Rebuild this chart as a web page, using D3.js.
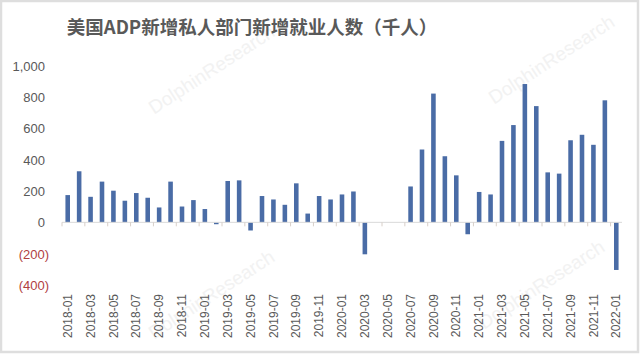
<!DOCTYPE html>
<html>
<head>
<meta charset="utf-8">
<script src="https://cdn.jsdelivr.net/npm/d3@7"></script>
<style>
  body { margin: 0; background: #fff; }
  svg { display: block; }
</style>
</head>
<body>
<svg id="chart" width="641" height="355"></svg>
<script>
// months 2018-01 .. 2022-01
var months = []
for (var yr = 2018; yr <= 2022; yr++) {
    for (var m = 1; m <= 12; m++) {
        if (yr === 2022 && m > 1) break
        months.push(yr + "-" + (m < 10 ? "0" + m : m))
    }
}

// ADP private payroll change (thousands), 2020-04..06 not shown
var adpValues = [
    174, 326, 163, 260, 202, 138, 187, 157, 95, 260, 101, 142,
    85, -12, 264, 268, -52, 168, 146, 112, 249, 56, 168, 146,
    178, 197, -204, null, null, null, 229, 465, 822, 422, 300, -76,
    194, 178, 520, 621, 883, 742, 319, 311, 524, 559, 495, 779,
    -304
]

var yTicks = [-400, -200, 0, 200, 400, 600, 800, 1000]
var titleText = "美国ADP新增私人部门新增就业人数（千人）"

var dataset = months.map((d, i) => ({ month: d, value: adpValues[i] }))

var svg = d3.select("#chart")
var dims = {
    width: 641,
    height: 355,
    margin: { top: 65.7, bottom: 70, left: 62, right: 19 }
}
var fontFam = "'Liberation Sans', Arial, sans-serif"
var textGrey = "#595959"

// frame
svg.append("rect")
    .attr("x", 1).attr("y", 1)
    .attr("width", dims.width - 4).attr("height", dims.height - 4)
    .attr("fill", "#fff")
    .attr("stroke", "#dedede")
    .attr("stroke-width", 2.5)

// faint watermarks
var marks = [[215, 75], [555, 65], [215, 300], [545, 290]]
marks.forEach(p => {
    svg.append("text")
        .attr("transform", `translate(${p[0]},${p[1]}) rotate(-33)`)
        .attr("text-anchor", "middle")
        .attr("font-family", fontFam)
        .attr("font-size", 19)
        .attr("fill", "#f2f2f2")
        .text("DolphinResearch")
})

var xScale = d3.scaleBand()
    .domain(months)
    .range([dims.margin.left, dims.width - dims.margin.right])
    .paddingInner(0.6)
    .paddingOuter(0.3)

var yScale = d3.scaleLinear()
    .domain([-400, 1000])
    .range([285, dims.margin.top])

// y axis labels
var yAxis = svg.append("g")
    .attr("transform", `translate(45,0)`)
    .call(d3.axisLeft(yScale).tickValues(yTicks).tickSize(0).tickPadding(0)
        .tickFormat(d => d < 0 ? "(" + d3.format(",")(-d) + ")" : d3.format(",")(d)))
yAxis.select(".domain").remove()
yAxis.selectAll("text")
    .attr("font-family", fontFam)
    .attr("font-size", 13)
    .attr("dy", "0.35em")
    .attr("fill", d => d < 0 ? "#b0403f" : textGrey)
    .attr("x", d => d < 0 ? 4 : 0)

// bars
svg.append("g")
    .selectAll("rect")
    .data(dataset.filter(d => d.value !== null))
    .enter()
    .append("rect")
    .attr("x", d => xScale(d.month))
    .attr("y", d => yScale(Math.max(0, d.value)))
    .attr("width", xScale.bandwidth())
    .attr("height", d => Math.abs(yScale(d.value) - yScale(0)))
    .attr("fill", "#4a6ca6")

// zero line with ticks every 2 months
var step = xScale.step()
var x0 = dims.margin.left
var x1 = dims.width - dims.margin.right
var zeroY = yScale(0)
svg.append("line")
    .attr("x1", x0).attr("x2", x1)
    .attr("y1", zeroY).attr("y2", zeroY)
    .attr("stroke", "#d9d9d9")
    .attr("stroke-width", 1)
svg.append("g")
    .selectAll("line")
    .data(months.filter((d, i) => i % 2 === 0))
    .enter()
    .append("line")
    .attr("x1", d => xScale(d) - xScale.paddingInner() * step / 2)
    .attr("x2", d => xScale(d) - xScale.paddingInner() * step / 2)
    .attr("y1", zeroY).attr("y2", zeroY + 4)
    .attr("stroke", "#d8cfc8")
    .attr("stroke-width", 1)

// x labels
var labelAxis = svg.append("g")
    .attr("transform", `translate(0,294)`)
    .call(d3.axisBottom(xScale).tickValues(months.filter((d, i) => i % 2 === 0)).tickSize(0).tickPadding(0))
labelAxis.select(".domain").remove()
labelAxis.selectAll("text")
    .attr("font-family", fontFam)
    .attr("font-size", 12)
    .attr("fill", textGrey)
    .attr("text-anchor", "end")
    .attr("transform", "rotate(-90)")
    .attr("x", 0)
    .attr("y", 0)
    .attr("dx", 0)
    .attr("dy", "0.35em")

// title
svg.append("text")
    .attr("x", 252)
    .attr("y", 34)
    .attr("text-anchor", "middle")
    .attr("font-family", "'Noto Sans CJK SC', sans-serif")
    .attr("font-weight", "bold")
    .attr("font-size", 18.5)
    .attr("fill", textGrey)
    .text(titleText)
</script>
</body>
</html>
